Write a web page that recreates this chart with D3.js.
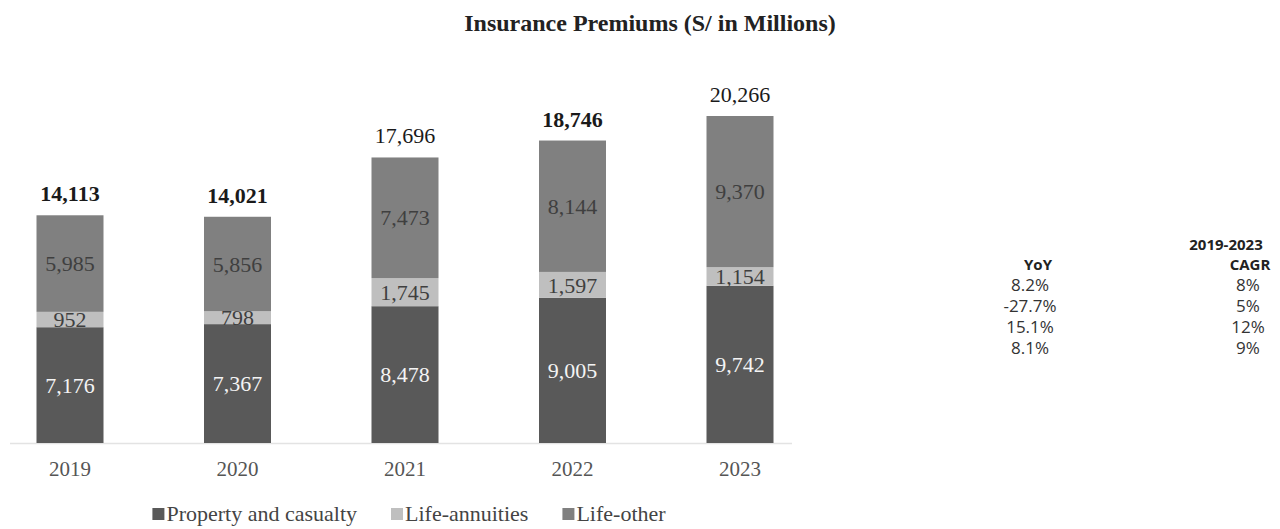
<!DOCTYPE html>
<html>
<head>
<meta charset="utf-8">
<script src="https://cdn.jsdelivr.net/npm/d3@7"></script>
<style>
  html, body { margin: 0; padding: 0; background: #fff; }
  svg { display: block; }
</style>
</head>
<body>
<svg id="chart" width="1280" height="529"></svg>
<script>
// Insurance premiums by line of business, S/ millions
const years = ["2019", "2020", "2021", "2022", "2023"];
const propertyCasualty = [7176, 7367, 8478, 9005, 9742];
const lifeAnnuities = [952, 798, 1745, 1597, 1154];
const lifeOther = [5985, 5856, 7473, 8144, 9370];
const totals = [14113, 14021, 17696, 18746, 20266];
const totalBold = [true, true, false, true, false];

const seriesNames = ["Property and casualty", "Life-annuities", "Life-other"];
const seriesColors = ["#595959", "#bfbfbf", "#808080"];
const seriesLabelColors = ["#f4f4f4", "#3f3f3f", "#3f3f3f"];

// Growth table
const rowYoY = ["8.2%", "-27.7%", "15.1%", "8.1%"];
const rowCAGR = ["8%", "5%", "12%", "9%"];

const svg = d3.select("#chart");
const serif = "'Liberation Serif', 'Times New Roman', serif";
const sans = "'Open Sans', 'Noto Sans', sans-serif";

svg.append("text")
  .attr("x", 650).attr("y", 31)
  .attr("text-anchor", "middle")
  .style("font-family", serif).style("font-size", "24px").style("font-weight", "bold")
  .style("fill", "#222")
  .text("Insurance Premiums (S/ in Millions)");

const rows = years.map((y, i) => ({
  year: y,
  "Property and casualty": propertyCasualty[i],
  "Life-annuities": lifeAnnuities[i],
  "Life-other": lifeOther[i],
  total: totals[i],
  bold: totalBold[i]
}));

const x = d3.scaleBand().domain(years)
  .range([-13.75, 823.75]).paddingInner(0.6).paddingOuter(0.3);
const y = d3.scaleLinear().domain([0, 20266]).range([443, 116]);

const stack = d3.stack().keys(seriesNames)(rows);

// baseline
svg.append("line")
  .attr("x1", 10).attr("x2", 792)
  .attr("y1", y(0) + 0.5).attr("y2", y(0) + 0.5)
  .attr("stroke", "#e3e3e3").attr("stroke-width", 1.5);

const layers = svg.append("g").selectAll("g").data(stack).join("g")
  .attr("fill", (d, i) => seriesColors[i]);

layers.selectAll("rect").data(d => d).join("rect")
  .attr("x", d => x(d.data.year))
  .attr("width", x.bandwidth())
  .attr("y", d => y(d[1]))
  .attr("height", d => y(d[0]) - y(d[1]));

const fmt = d3.format(",");

// segment labels
svg.append("g").selectAll("g").data(stack).join("g")
  .each(function (layer, li) {
    d3.select(this).selectAll("text").data(layer).join("text")
      .attr("x", d => x(d.data.year) + x.bandwidth() / 2)
      .attr("y", d => (y(d[0]) + y(d[1])) / 2)
      .attr("dy", "0.35em")
      .attr("text-anchor", "middle")
      .style("font-family", serif).style("font-size", "22px")
      .style("fill", seriesLabelColors[li])
      .text(d => fmt(d[1] - d[0]));
  });

// totals above bars
svg.append("g").selectAll("text").data(rows).join("text")
  .attr("x", d => x(d.year) + x.bandwidth() / 2)
  .attr("y", d => y(d.total) - 14)
  .attr("text-anchor", "middle")
  .style("font-family", serif).style("font-size", "22px")
  .style("font-weight", d => d.bold ? "bold" : "normal")
  .style("fill", "#1a1a1a")
  .text(d => fmt(d.total));

// x axis labels
const xAxis = svg.append("g")
  .attr("transform", `translate(0,${y(0)})`)
  .call(d3.axisBottom(x).tickSize(0).tickPadding(18));
xAxis.select(".domain").remove();
xAxis.selectAll("text")
  .style("font-family", serif).style("font-size", "21px").style("fill", "#555");

// legend, laid out from measured text widths and centred under the bars
const legendGap = 34;
const legend = svg.append("g");
const items = legend.selectAll("g").data(seriesNames).join("g");
items.append("rect")
  .attr("x", 0).attr("y", -13).attr("width", 12).attr("height", 12)
  .attr("fill", (d, i) => seriesColors[i]);
items.append("text")
  .attr("x", 14).attr("y", 0)
  .style("font-family", serif).style("font-size", "22px").style("fill", "#444")
  .text(d => d);
let cursor = 0;
const offsets = [];
items.each(function () {
  offsets.push(cursor);
  cursor += 14 + this.querySelector("text").getComputedTextLength() + legendGap;
});
const legendWidth = cursor - legendGap;
const legendStart = 409 - legendWidth / 2;
items.attr("transform", (d, i) => `translate(${legendStart + offsets[i]},521)`);

// growth table
const table = svg.append("g").style("font-family", sans).style("fill", "#222");
table.append("text")
  .attr("x", 1226).attr("y", 250).attr("text-anchor", "middle")
  .style("font-size", "15px").style("font-weight", "bold")
  .text("2019-2023");
table.append("text")
  .attr("x", 1038).attr("y", 270).attr("text-anchor", "middle")
  .style("font-size", "15px").style("font-weight", "bold")
  .text("YoY");
table.append("text")
  .attr("x", 1250).attr("y", 270).attr("text-anchor", "middle")
  .style("font-size", "15px").style("font-weight", "bold")
  .text("CAGR");
table.selectAll("text.yoy").data(rowYoY).join("text")
  .attr("class", "yoy")
  .attr("x", 1030).attr("y", (d, i) => 291 + i * 21)
  .attr("text-anchor", "middle")
  .style("font-size", "17px").style("fill", "#333")
  .text(d => d);
table.selectAll("text.cagr").data(rowCAGR).join("text")
  .attr("class", "cagr")
  .attr("x", 1248).attr("y", (d, i) => 291 + i * 21)
  .attr("text-anchor", "middle")
  .style("font-size", "17px").style("fill", "#333")
  .text(d => d);
</script>
</body>
</html>
